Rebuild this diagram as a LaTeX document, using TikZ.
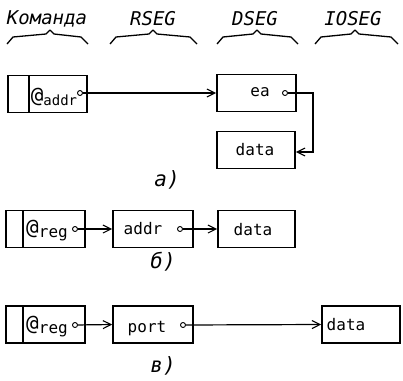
\documentclass[tikz,border=0pt]{standalone}
\usepackage{fontspec}
\newfontfamily\dmono{DejaVu Sans Mono}
\usetikzlibrary{arrows.meta}
\begin{document}
\begin{tikzpicture}[x=1pt,y=-1pt,
  box/.style={draw, line width=1.6pt, inner sep=0pt, minimum height=37pt},
  dot/.style={circle, draw, fill=white, minimum size=5pt, inner sep=0pt, line width=0.9pt},
  arr/.style={line width=1.2pt, -{Straight Barb[length=8pt,width=8pt,line width=1.1pt]}},
  brace/.style={line width=1.3pt, line join=round},
  hd/.style={font=\dmono\itshape\fontsize{19}{19}\selectfont, inner sep=0pt},
  bt/.style={font=\dmono\fontsize{16}{16}\selectfont, inner sep=0pt},
  lab/.style={font=\dmono\itshape\fontsize{21}{21}\selectfont, inner sep=0pt}]
\useasboundingbox (0,0) rectangle (403,380);
% headers
\node[hd] (h1) at (47,19) {Команда};
\node[hd] (h2) at (153,19) {RSEG};
\node[hd] (h3) at (255,19) {DSEG};
\node[hd] (h4) at (353,19) {IOSEG};
\foreach \c/\l/\r in {50/7/88, 153/110/197, 257/217/298, 355/315/398}{
  \draw[brace] (\l,44) -- (\l+6,37) -- (\c-4,34) -- (\c,30) -- (\c+4,34) -- (\r-7,37) -- (\r,44);
}
% a)
\node[box, minimum width=21pt] (a1l) at (18.5,94) {};
\node[box, minimum width=58pt] (a1r) at (58,94) {};
\node[bt] (a1t) at (54,97) {\fontsize{21}{21}\selectfont @\raisebox{-3pt}{\fontsize{14}{14}\selectfont addr}};
\node[dot] (a1p) at (80,93) {};
\node[box, minimum width=79pt] (a2) at (256.5,93) {};
\node[bt] (a2t) at (260,92) {ea};
\node[dot] (a2p) at (285,93) {};
\node[box, minimum width=78pt] (a3) at (256,150) {};
\node[bt] (a3t) at (255,150) {data};
\coordinate (ca1) at (313,93);
\coordinate (ca2) at (313,152);
\draw[arr] (a1p) -- (a2.west);
\draw[arr] (a2p) -- (ca1) -- (ca2) -- (a3.east |- ca2);
\node[lab] (la) at (167,180) {а)};
% б)
\node[box, minimum width=17pt] (b1l) at (14.5,229) {};
\node[box, minimum width=62pt] (b1r) at (54,229) {};
\node[bt] (b1t) at (47,231) {\fontsize{21}{21}\selectfont @\raisebox{-3pt}{\fontsize{16}{16}\selectfont reg}};
\node[dot] (b1p) at (75,229) {};
\node[box, minimum width=80pt] (b2) at (153,229) {};
\node[bt] (b2t) at (143,229) {addr};
\node[dot] (b2p) at (180,229) {};
\node[box, minimum width=77pt] (b3) at (256.5,229) {};
\node[bt] (b3t) at (253,230) {data};
\draw[arr] (b1p) -- (b2.west);
\draw[arr] (b2p) -- (b3.west);
\node[lab] (lb) at (163,262) {б)};
% в)
\node[box, minimum width=17pt] (c1l) at (14.5,324.5) {};
\node[box, minimum width=62pt] (c1r) at (54,324.5) {};
\node[bt] (c1t) at (47,327) {\fontsize{21}{21}\selectfont @\raisebox{-3pt}{\fontsize{16}{16}\selectfont reg}};
\node[dot] (c1p) at (75,325) {};
\node[box, minimum width=80pt] (c2) at (153,324.5) {};
\node[bt] (c2t) at (147,329) {port};
\node[dot] (c2p) at (183,325) {};
\node[box, minimum width=78pt] (c3) at (361,324.5) {};
\node[bt] (c3t) at (346,325) {data};
\draw[arr] (c1p) -- (c2.west);
\draw[arr] (c2p) -- (c3.west);
\node[lab] (lc) at (163,366) {в)};
\end{tikzpicture}
\end{document}
